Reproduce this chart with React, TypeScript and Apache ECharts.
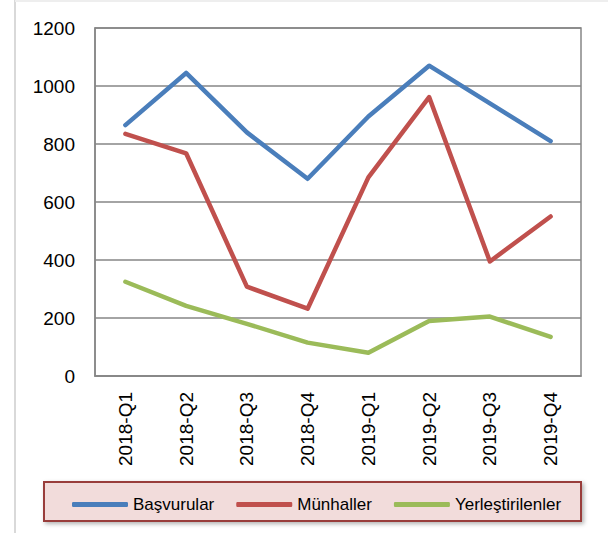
import React, { useEffect, useRef } from "react";
import * as echarts from "echarts";

const categories = ["2018-Q1", "2018-Q2", "2018-Q3", "2018-Q4", "2019-Q1", "2019-Q2", "2019-Q3", "2019-Q4"];
const basvurular = [865, 1045, 840, 680, 895, 1070, 940, 810];
const munhaller = [835, 768, 308, 232, 685, 962, 395, 550];
const yerlestirilenler = [325, 242, 180, 115, 80, 190, 205, 135];
const yTicks = { min: 0, max: 1200, interval: 200 };

const FONT = "'Liberation Sans', Arial, sans-serif";

export default function App() {
  const ref = useRef<HTMLDivElement>(null);
  useEffect(() => {
    if (!ref.current) return;
    const chart = echarts.init(ref.current, undefined, { renderer: "svg" });
    const lineSeries = (name: string, data: number[], color: string) => ({
      name,
      type: "line",
      data,
      symbol: "none",
      color,
      lineStyle: { color, width: 4.5, cap: "round", join: "round" },
      z: 3,
    });
    chart.setOption({
      animation: false,
      backgroundColor: "#ffffff",
      textStyle: { fontFamily: FONT },
      grid: {
        left: 95,
        top: 28,
        right: 27,
        bottom: 157,
        show: true,
        borderColor: "#868686",
        borderWidth: 1.5,
        backgroundColor: "transparent",
      },
      xAxis: {
        type: "category",
        data: categories,
        boundaryGap: true,
        axisLine: { show: true, lineStyle: { color: "#868686", width: 1.5 } },
        axisTick: { show: false },
        axisLabel: { rotate: 90, fontSize: 19, color: "#000", margin: 16, fontFamily: FONT },
      },
      yAxis: {
        type: "value",
        min: yTicks.min,
        max: yTicks.max,
        interval: yTicks.interval,
        axisLine: { show: true, lineStyle: { color: "#868686", width: 1.5 } },
        axisTick: { show: false },
        axisLabel: {
          fontSize: 19,
          color: "#000",
          margin: 20,
          fontFamily: FONT,
          formatter: (v: number) => String(v),
        },
        splitLine: { show: true, lineStyle: { color: "#868686", width: 1.5 } },
      },
      legend: {
        left: 67,
        top: 491,
        z: 10,
        icon: "roundRect",
        itemWidth: 56,
        itemHeight: 5,
        itemGap: 22,
        textStyle: { fontSize: 17, color: "#000", fontFamily: FONT },
        data: ["Başvurular", "Münhaller", "Yerleştirilenler"],
      },
      graphic: [
        { type: "line", z: -1, shape: { x1: 15, y1: 0, x2: 15, y2: 533 }, style: { stroke: "#d9d9d9", lineWidth: 2 } },
        { type: "line", z: -1, shape: { x1: 15, y1: 1, x2: 608, y2: 1 }, style: { stroke: "#eeeeee", lineWidth: 2 } },
        {
          type: "rect",
          z: 0,
          shape: { x: 44, y: 482, width: 537, height: 39 },
          style: {
            fill: "#f2dcdb",
            stroke: "#993c3a",
            lineWidth: 2,
            shadowBlur: 4,
            shadowOffsetX: 2,
            shadowOffsetY: 2,
            shadowColor: "rgba(0,0,0,0.3)",
          },
        },
      ],
      series: [
        lineSeries("Başvurular", basvurular, "#4a7ebb"),
        lineSeries("Münhaller", munhaller, "#c0504d"),
        lineSeries("Yerleştirilenler", yerlestirilenler, "#9bbb59"),
      ],
    });
    return () => chart.dispose();
  }, []);
  return <div ref={ref} style={{ position: "absolute", left: 0, top: 0, width: 608, height: 533 }} />;
}
